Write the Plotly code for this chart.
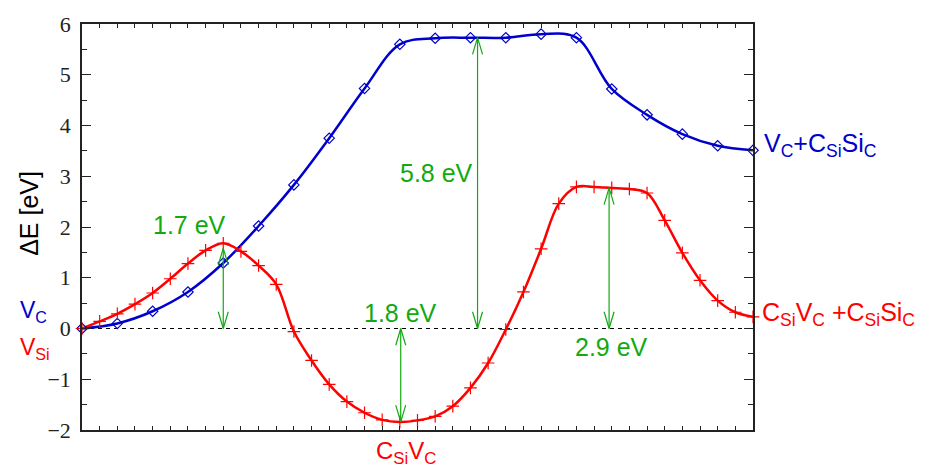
import plotly.graph_objects as go

# ---------------- data ----------------
red_x = list(range(0, 39))
red_y = [0.00, 0.14, 0.29, 0.48, 0.70, 0.98, 1.28, 1.54, 1.68, 1.52,
         1.24, 0.87, -0.06, -0.63, -1.10, -1.44, -1.66, -1.80, -1.84, -1.81,
         -1.73, -1.53, -1.17, -0.68, -0.02, 0.72, 1.57, 2.46, 2.79, 2.79,
         2.77, 2.75, 2.67, 2.13, 1.49, 0.95, 0.55, 0.32, 0.23]

blue_x = list(range(0, 39, 2))
blue_y = [0.00, 0.10, 0.34, 0.72, 1.29, 2.02, 2.83, 3.75, 4.73, 5.60,
          5.72, 5.73, 5.73, 5.80, 5.73, 4.72, 4.21, 3.83, 3.60, 3.51]

# energy-barrier arrows
arrow_x = [8.0, 22.4, 18.05, 29.85]
arrow_from = [0.0, 0.0, 0.0, 0.0]
arrow_to = [1.58, 5.73, -1.84, 2.77]
arrow_text = ["1.7 eV", "5.8 eV", "1.8 eV", "2.9 eV"]
label_x = [6.1, 20.1, 18.05, 30.0]
label_y = [2.03, 3.07, 0.31, -0.36]

y_ticks = [-2, -1, 0, 1, 2, 3, 4, 5, 6]

BLUE = "#0000cc"
RED = "#ff0000"
GREEN = "#11aa11"
SANS = "Liberation Sans, Arial, sans-serif"
SERIF = "Liberation Serif, Times New Roman, serif"

# plot geometry (for arrowhead sizes in data units)
L, R, T, B = 82, 172, 17, 38
W, H = 925, 468
x_range = [0, 38]
y_range = [-2, 6]
px_x = (x_range[1] - x_range[0]) / (W - L - R)
px_y = (y_range[1] - y_range[0]) / (H - T - B)
head_len = 17 * px_y
head_hw = 5 * px_x


def to_paper(x, y):
    return ((x - x_range[0]) / (x_range[1] - x_range[0]),
            (y - y_range[0]) / (y_range[1] - y_range[0]))


fig = go.Figure()

# zero reference line
fig.add_trace(go.Scatter(x=x_range, y=[0, 0], mode="lines",
                         line=dict(color="black", width=1, dash="4px,4px"),
                         hoverinfo="skip", showlegend=False))

# curves
fig.add_trace(go.Scatter(x=blue_x, y=blue_y, mode="lines",
                         line=dict(color=BLUE, width=2.5, shape="spline", smoothing=1.0),
                         showlegend=False, hoverinfo="skip"))
fig.add_trace(go.Scatter(x=red_x, y=red_y, mode="lines",
                         line=dict(color=RED, width=2.5, shape="spline", smoothing=1.0),
                         showlegend=False, hoverinfo="skip"))
fig.add_trace(go.Scatter(x=blue_x, y=blue_y, mode="markers",
                         marker=dict(symbol="diamond-open", size=8, color=BLUE,
                                     line=dict(width=1.2, color=BLUE)),
                         showlegend=False, cliponaxis=False))
fig.add_trace(go.Scatter(x=red_x, y=red_y, mode="markers",
                         marker=dict(symbol="cross-thin", size=9, color=RED,
                                     line=dict(width=1.2, color=RED)),
                         showlegend=False, cliponaxis=False))

# double-headed arrows
ax, ay = [], []
for x, y0, y1 in zip(arrow_x, arrow_from, arrow_to):
    s = 1 if y1 > y0 else -1
    ax += [x, x, None]
    ay += [y0, y1, None]
    ax += [x - head_hw, x, x + head_hw, None]
    ay += [y1 - s * head_len, y1, y1 - s * head_len, None]
    ax += [x - head_hw, x, x + head_hw, None]
    ay += [y0 + s * head_len, y0, y0 + s * head_len, None]
fig.add_trace(go.Scatter(x=ax, y=ay, mode="lines", line=dict(color=GREEN, width=1.2),
                         showlegend=False, hoverinfo="skip"))

annotations = []
for t, x, y in zip(arrow_text, label_x, label_y):
    annotations.append(dict(x=x, y=y, text=t, showarrow=False,
                            font=dict(family=SANS, size=25, color=GREEN),
                            xanchor="center", yanchor="middle"))


def lab(x, y, text, color, xanchor="left", size=23, angle=0):
    px, py = to_paper(x, y)
    return dict(x=px, y=py, xref="paper", yref="paper", text=text, showarrow=False,
                xanchor=xanchor, yanchor="middle", textangle=angle,
                font=dict(family=SANS, size=size, color=color))


annotations += [
    lab(-3.62, 0.33, "V<sub>C</sub>", BLUE, size=23),
    lab(-3.62, -0.39, "V<sub>Si</sub>", RED, size=23),
    lab(38.5, 3.62, "V<sub>C</sub>+C<sub>Si</sub>Si<sub>C</sub>", BLUE, size=25),
    lab(38.4, 0.28, "C<sub>Si</sub>V<sub>C</sub> +C<sub>Si</sub>Si<sub>C</sub>", RED, size=25),
    lab(18.35, -2.44, "C<sub>Si</sub>V<sub>C</sub>", RED, xanchor="center", size=24),
    lab(-3.0, 2.26, "ΔE [eV]", "black", xanchor="center", size=25, angle=-90),
]

axis_common = dict(showline=True, linecolor="#222", linewidth=1.5, mirror="allticks",
                   ticks="inside", tickcolor="#222", zeroline=False, showgrid=False)

fig.update_layout(
    width=W, height=H,
    margin=dict(l=L, r=R, t=T, b=B),
    paper_bgcolor="white", plot_bgcolor="white",
    xaxis=dict(range=x_range, dtick=1, tick0=0, ticklen=4, tickwidth=1,
               showticklabels=False, **axis_common),
    yaxis=dict(range=y_range, tickvals=y_ticks, ticklen=9, tickwidth=1.2,
               tickfont=dict(family=SERIF, size=22, color="#222"),
               minor=dict(dtick=0.5, ticks="inside", ticklen=5, tickcolor="#222", tickwidth=1),
               ticklabelstandoff=5, **axis_common),
    annotations=annotations,
)

fig.write_html("out.html")
